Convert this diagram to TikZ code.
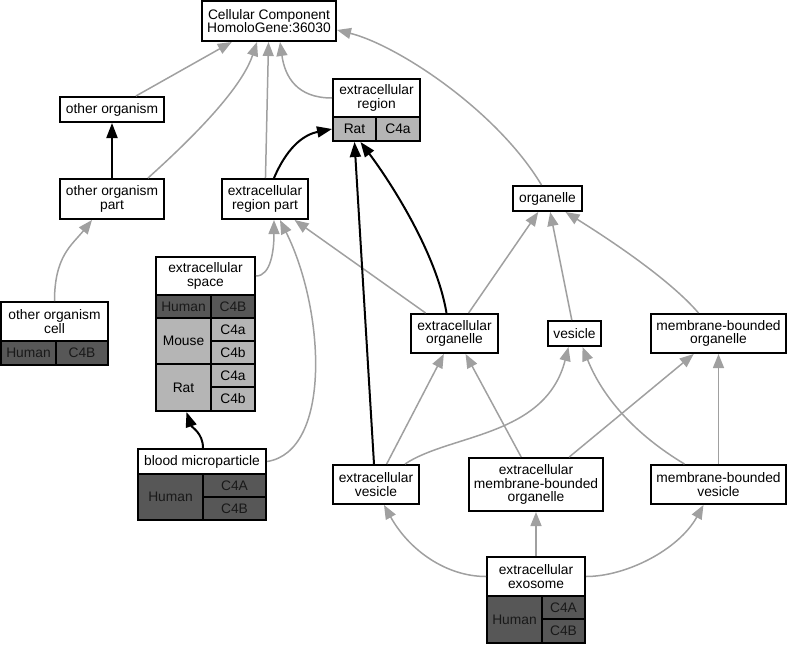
\documentclass[tikz,border=0pt]{standalone}
\usepackage{fontspec}
\setmainfont{Liberation Sans}
\usetikzlibrary{arrows.meta, positioning}
\definecolor{edgegray}{RGB}{160, 160, 160}
\definecolor{humangray}{RGB}{87, 87, 87}
\definecolor{rodentgray}{RGB}{181, 181, 181}

\begin{document}
\begin{tikzpicture}[x=1pt, y=-1pt,
        term/.style={rectangle, draw, line width=2pt, fill=white, align=center, inner sep=0pt, font=\fontsize{13.8}{13.5}\selectfont},
        dcell/.style={term, fill=humangray, text=black!90},
        lcell/.style={term, fill=rodentgray},
        isa/.style={draw=edgegray, line width=1.5pt, -{Triangle[length=14pt, width=11pt]}},
        partof/.style={draw=black, line width=2pt, -{Triangle[length=15pt, width=11pt]}}
    ]
        \useasboundingbox (0,0) rectangle (787,645);

        % top rows
        \node[term, minimum width=134pt, minimum height=40pt] (cc) at (269,21) {Cellular Component\\HomoloGene:36030};
        \node[term, minimum width=104pt, minimum height=25pt] (oo) at (112,109.5) {other organism};
        \node[term, minimum width=104pt, minimum height=40pt] (oop) at (112,199) {other organism\\part};
        \node[term, minimum width=86pt, minimum height=40pt] (erp) at (265,199) {extracellular\\region part};
        \node[term, minimum width=87pt, minimum height=38pt] (exreg) at (376.5,98) {extracellular\\region};
        \node[lcell, minimum width=43pt, minimum height=24pt] (exregrat) at (354.5,129) {Rat};
        \node[lcell, minimum width=44pt, minimum height=24pt] (exregc) at (398,129) {C4a};
        \node[term, minimum width=69pt, minimum height=25pt] (org) at (547.5,198.5) {organelle};

        % annotated terms on the left
        \node[term, minimum width=107pt, minimum height=39pt] (ooc) at (54.5,321.5) {other organism\\cell};
        \node[dcell, minimum width=55pt, minimum height=24pt] (oochum) at (28.5,353) {Human};
        \node[dcell, minimum width=52pt, minimum height=24pt] (oocb) at (82,353) {C4B};

        \node[term, minimum width=99pt, minimum height=38pt] (exsp) at (205.5,276) {extracellular\\space};
        \node[dcell, minimum width=55pt, minimum height=23pt] (exsphum) at (183.5,306.5) {Human};
        \node[dcell, minimum width=44pt, minimum height=23pt] (exsphb) at (233,306.5) {C4B};
        \node[lcell, minimum width=55pt, minimum height=46pt] (exspmus) at (183.5,341) {Mouse};
        \node[lcell, minimum width=44pt, minimum height=23pt] (exspmusa) at (233,329.5) {C4a};
        \node[lcell, minimum width=44pt, minimum height=23pt] (exspmusb) at (233,352.5) {C4b};
        \node[lcell, minimum width=55pt, minimum height=47pt] (exsprat) at (183.5,387.5) {Rat};
        \node[lcell, minimum width=44pt, minimum height=23pt] (exsprata) at (233,375.5) {C4a};
        \node[lcell, minimum width=44pt, minimum height=24pt] (exspratb) at (233,399) {C4b};

        \node[term, minimum width=128pt, minimum height=25pt] (bmp) at (202,461.5) {blood microparticle};
        \node[dcell, minimum width=65pt, minimum height=46pt] (bmphum) at (170.5,497) {Human};
        \node[dcell, minimum width=63pt, minimum height=23pt] (bmpa) at (234.5,485.5) {C4A};
        \node[dcell, minimum width=63pt, minimum height=23pt] (bmpb) at (234.5,508.5) {C4B};

        % middle and lower rows
        \node[term, minimum width=87pt, minimum height=39pt] (exorg) at (454.5,333.5) {extracellular\\organelle};
        \node[term, minimum width=53pt, minimum height=25pt] (ves) at (574.5,333.5) {vesicle};
        \node[term, minimum width=135pt, minimum height=39pt] (mbo) at (718.5,333.5) {membrane-bounded\\organelle};
        \node[term, minimum width=86pt, minimum height=39pt] (exves) at (376,484.5) {extracellular\\vesicle};
        \node[term, minimum width=134pt, minimum height=53pt] (exmbo) at (536,484.5) {extracellular\\membrane-bounded\\organelle};
        \node[term, minimum width=135pt, minimum height=39pt] (mbv) at (718.5,484.5) {membrane-bounded\\vesicle};

        \node[term, minimum width=98pt, minimum height=39pt] (exo) at (536,576.5) {extracellular\\exosome};
        \node[dcell, minimum width=55pt, minimum height=47pt] (exohum) at (514.5,619.5) {Human};
        \node[dcell, minimum width=43pt, minimum height=23pt] (exoa) at (563.5,607.5) {C4A};
        \node[dcell, minimum width=43pt, minimum height=24pt] (exob) at (563.5,631) {C4B};

        % is_a links
        \draw[isa] (oo) -- (cc);
        \draw[isa] ([xshift=36pt]oop.north) .. controls +(50,-45) and +(-15,45) .. ([xshift=-12pt]cc.south);
        \draw[isa] (erp) -- (cc);
        \draw[isa] (exreg.west) .. controls +(-35,0) and +(5,35) .. ([xshift=11pt]cc.south);
        \draw[isa] ([xshift=-6pt]org.north) .. controls +(-45,-75) and +(60,15) .. ([yshift=-9pt]cc.east);
        \draw[isa] (ooc.north) .. controls +(0,-45) and +(-20,25) .. ([xshift=-20pt]oop.south);
        \draw[isa] (exsp.east) .. controls +(15,0) and +(0,30) .. ([xshift=9pt]erp.south);
        \draw[isa] (bmp.east) .. controls +(65,-10) and +(45,90) .. ([xshift=15pt]erp.south);
        \draw[isa] (exorg) -- (erp);
        \draw[isa] (exorg) -- (org);
        \draw[isa] (ves) -- (org);
        \draw[isa] ([xshift=-20pt]mbo.north) .. controls +(-30,-35) and +(40,25) .. ([xshift=18pt]org.south);
        \draw[isa] (exves) -- (exorg);
        \draw[isa] ([xshift=29pt]exves.north) .. controls +(45,-30) and +(-23,90) .. ([xshift=-6pt]ves.south);
        \draw[isa] (exmbo) -- (exorg);
        \draw[isa] (exmbo) -- (mbo);
        \draw[isa] ([xshift=-34pt]mbv.north) .. controls +(-50,-30) and +(20,50) .. ([xshift=8pt]ves.south);
        \draw[isa] (mbv) -- (mbo);
        \draw[isa] (exo.west) .. controls +(-40,0) and +(25,45) .. ([xshift=8pt]exves.south);
        \draw[isa] (exo) -- (exmbo);
        \draw[isa] (exo.east) .. controls +(40,0) and +(-25,45) .. ([xshift=-15pt]mbv.south);

        % part_of links
        \draw[partof] (oop) -- (oo);
        \draw[partof] ([xshift=9pt]erp.north) .. controls +(15,-35) and +(-25,5) .. (exregrat.west);
        \draw[partof] ([xshift=-8pt]exorg.north) .. controls +(-10,-60) and +(30,40) .. ([xshift=6pt]exregrat.south);
        \draw[partof] ([xshift=-2pt]exves.north) -- (exregrat.south);
        \draw[partof] ([xshift=1pt]bmp.north) .. controls +(0,-15) and +(5,15) .. ([xshift=3pt]exsprat.south);
    \end{tikzpicture}
\end{document}
